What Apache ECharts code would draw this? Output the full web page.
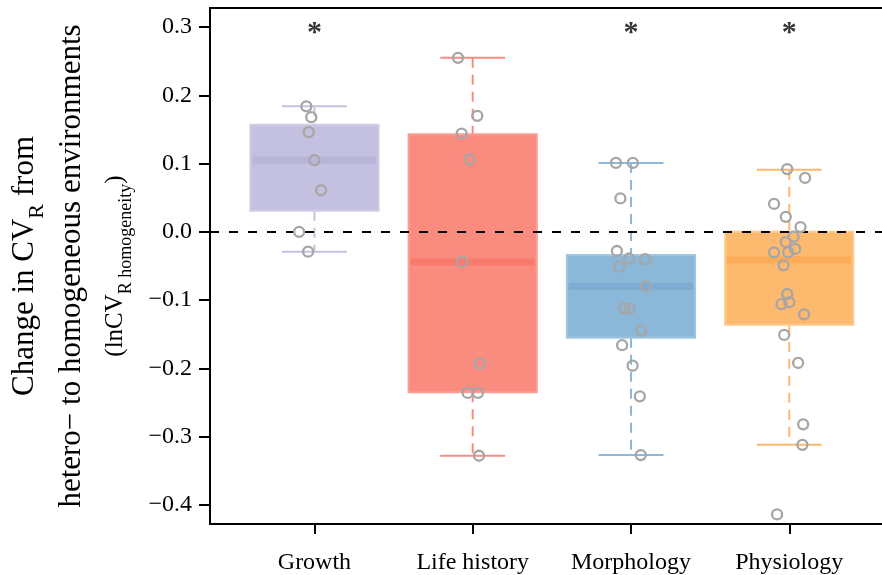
<!DOCTYPE html>
<html>
<head>
<meta charset="utf-8">
<script src="https://cdn.jsdelivr.net/npm/echarts@6/dist/echarts.min.js"></script>
<style>
html,body{margin:0;padding:0;background:#fff;}
#chart{width:882px;height:575px;}
</style>
</head>
<body>
<div id="chart"></div>
<script>
// ---- data ----
const categories = ['Growth', 'Life history', 'Morphology', 'Physiology'];
const whiskerLow  = [-0.029, -0.328, -0.327, -0.312];
const quartile1   = [ 0.031, -0.235, -0.155, -0.136];
const medians     = [ 0.105, -0.044, -0.080, -0.041];
const quartile3   = [ 0.157,  0.143, -0.034,  0.000];
const whiskerHigh = [ 0.184,  0.255,  0.101,  0.091];
const significance = ['*', '', '*', '*'];
const significanceY = 0.3;

const growthValues = [0.184, 0.168, 0.146, 0.105, 0.061, 0.000, -0.029];
const growthJitter = [-0.051, -0.020, -0.036, 0.000, 0.042, -0.097, -0.040];
const lifeValues = [0.255, 0.170, 0.144, 0.106, -0.044, -0.193, -0.236, -0.236, -0.328];
const lifeJitter = [-0.093, 0.029, -0.070, -0.021, -0.066, 0.044, -0.032, 0.033, 0.040];
const morphValues = [0.101, 0.101, 0.049, -0.028, -0.039, -0.040, -0.051, -0.080, -0.112, -0.113, -0.145, -0.166, -0.196, -0.241, -0.327];
const morphJitter = [-0.095, 0.012, -0.067, -0.089, -0.013, 0.090, -0.074, 0.094, -0.043, -0.009, 0.064, -0.056, 0.010, 0.056, 0.062];
const physValues = [0.092, 0.079, 0.041, 0.022, 0.007, -0.007, -0.015, -0.025, -0.030, -0.030, -0.049, -0.091, -0.103, -0.106, -0.121, -0.151, -0.192, -0.282, -0.312, -0.414];
const physJitter = [-0.013, 0.100, -0.096, -0.022, 0.071, 0.027, -0.022, 0.037, -0.007, -0.096, -0.036, -0.013, 0.000, -0.049, 0.094, -0.032, 0.056, 0.088, 0.083, -0.077];

const yTickValues = [-0.4, -0.3, -0.2, -0.1, 0.0, 0.1, 0.2, 0.3];
const yTickLabels = ['\u22120.4', '\u22120.3', '\u22120.2', '\u22120.1', '0.0', '0.1', '0.2', '0.3'];
const xTickValues = [1, 2, 3, 4];

// ---- styles ----
const boxFill    = ['#c3c1df', '#f98b7f', '#8bb7d8', '#fdb96d'];
const boxBorder  = ['#cfcde6', '#fb9e93', '#a2c5e0', '#fdc98d'];
const boxMedian  = ['#b8b5d8', '#f87b6d', '#7eabd1', '#fcac58'];
const boxWhisker = ['#c5c3e1', '#fa8b80', '#8ab9dc', '#fdb86f'];
const FONT = 'Liberation Serif';

const boxData = categories.map((c, i) => [i + 1, whiskerLow[i], quartile1[i], medians[i], quartile3[i], whiskerHigh[i]]);

function pts(values, jitter, idx) {
  return values.map((v, k) => [idx + 1 + jitter[k], v]);
}
const pointData = [].concat(
  pts(growthValues, growthJitter, 0),
  pts(lifeValues, lifeJitter, 1),
  pts(morphValues, morphJitter, 2),
  pts(physValues, physJitter, 3)
);
const sigData = significance.map((s, i) => ({ value: [i + 1, significanceY], label: { formatter: s } })).filter((d, i) => significance[i] !== '');

function renderBox(params, api) {
  const i = params.dataIndex;
  const x = api.value(0);
  const boxHalf = 0.405, capHalf = 0.205;
  const pLow = api.coord([x, api.value(1)]);
  const pQ1 = api.coord([x, api.value(2)]);
  const pMed = api.coord([x, api.value(3)]);
  const pQ3 = api.coord([x, api.value(4)]);
  const pHigh = api.coord([x, api.value(5)]);
  const left = api.coord([x - boxHalf, 0])[0];
  const right = api.coord([x + boxHalf, 0])[0];
  const capL = api.coord([x - capHalf, 0])[0];
  const capR = api.coord([x + capHalf, 0])[0];
  const cx = pMed[0];
  const wStyle = { stroke: boxWhisker[i], lineWidth: 2, lineDash: [10, 7] };
  const cStyle = { stroke: boxWhisker[i], lineWidth: 2 };
  return {
    type: 'group',
    children: [
      { type: 'line', shape: { x1: cx, y1: pHigh[1], x2: cx, y2: pQ3[1] }, style: wStyle },
      { type: 'line', shape: { x1: cx, y1: pQ1[1], x2: cx, y2: pLow[1] }, style: wStyle },
      { type: 'line', shape: { x1: capL, y1: pHigh[1], x2: capR, y2: pHigh[1] }, style: cStyle },
      { type: 'line', shape: { x1: capL, y1: pLow[1], x2: capR, y2: pLow[1] }, style: cStyle },
      { type: 'rect', shape: { x: left, y: pQ3[1], width: right - left, height: pQ1[1] - pQ3[1] },
        style: { fill: boxFill[i], stroke: boxBorder[i], lineWidth: 2 } },
      { type: 'rect', shape: { x: left + 2, y: pMed[1] - 3.5, width: right - left - 4, height: 7 },
        style: { fill: boxMedian[i] } }
    ]
  };
}

const chart = echarts.init(document.getElementById('chart'), null, { renderer: 'canvas' });
chart.setOption({
  animation: false,
  backgroundColor: '#fff',
  grid: { left: 210, right: 0, top: 8, bottom: 51, containLabel: false },
  xAxis: [{
    type: 'value', min: 0.34, max: 4.586,
    splitLine: { show: false },
    axisLine: { show: true, onZero: false, lineStyle: { color: '#000', width: 2 } },
    axisTick: { show: true, length: 10, customValues: xTickValues, lineStyle: { color: '#000', width: 2 } },
    axisLabel: { customValues: xTickValues, margin: 27, color: '#000', fontFamily: FONT, fontSize: 24,
      formatter: v => categories[Math.round(v) - 1] || '' }
  }, {
    type: 'value', min: 0.34, max: 4.586, position: 'top',
    splitLine: { show: false },
    axisLine: { show: true, onZero: false, lineStyle: { color: '#000', width: 2 } },
    axisTick: { show: false }, axisLabel: { show: false }
  }],
  yAxis: {
    type: 'value', min: -0.428, max: 0.328,
    splitLine: { show: false },
    axisLine: { show: true, onZero: false, lineStyle: { color: '#000', width: 2 } },
    axisTick: { show: true, length: 11, customValues: yTickValues, lineStyle: { color: '#000', width: 2 } },
    axisLabel: { customValues: yTickValues, margin: 18, color: '#000', fontFamily: FONT, fontSize: 24,
      formatter: v => { const k = yTickValues.findIndex(t => Math.abs(t - v) < 1e-9); return k >= 0 ? yTickLabels[k] : ''; } },
    name: '{a|Change in CV}{s1|R}{a| from}\n{a|hetero\u2212 to homogeneous environments}\n{b|(lnCV}{s2|R homogeneity}{b|)}',
    nameLocation: 'middle',
    nameRotate: 90,
    nameGap: 75,
    nameTextStyle: {
      color: '#000', fontFamily: FONT, align: 'center',
      rich: {
        a: { fontSize: 31, lineHeight: 47, fontFamily: FONT, color: '#000' },
        s1: { fontSize: 22, lineHeight: 37, verticalAlign: 'bottom', fontFamily: FONT, color: '#000' },
        b: { fontSize: 25, lineHeight: 40, fontFamily: FONT, color: '#000' },
        s2: { fontSize: 18, lineHeight: 33, verticalAlign: 'bottom', fontFamily: FONT, color: '#000' }
      }
    }
  },
  series: [
    { type: 'custom', name: 'boxes', z: 2, data: boxData, renderItem: renderBox, encode: { x: 0, y: [1, 2, 3, 4, 5] } },
    { type: 'line', name: 'zero', z: 3, data: [], silent: true,
      markLine: { silent: true, z: 3, symbol: ['none', 'none'], label: { show: false },
        lineStyle: { color: '#000', width: 2, type: [9, 10] }, data: [{ yAxis: 0 }] } },
    { type: 'scatter', name: 'points', z: 4, data: pointData, symbol: 'circle', symbolSize: 10,
      itemStyle: { color: 'rgba(0,0,0,0)', borderColor: '#a6a6a6', borderWidth: 2.3, opacity: 1 } },
    { type: 'scatter', name: 'sig', z: 5, data: sigData, symbolSize: 0,
      label: { show: true, position: 'inside', offset: [0, 6], color: '#000', fontFamily: FONT, fontSize: 30, fontWeight: 'bold' } }
  ]
});
</script>
</body>
</html>
